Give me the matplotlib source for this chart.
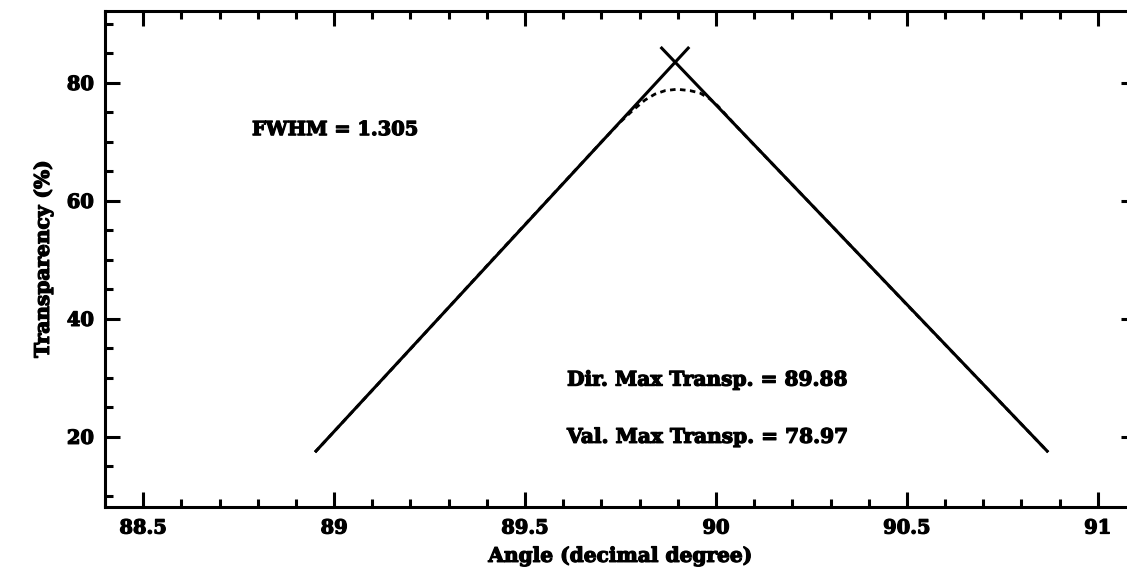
import matplotlib
matplotlib.use("Agg")
import matplotlib.pyplot as plt
import matplotlib.patheffects as pe
from matplotlib.ticker import MultipleLocator, FuncFormatter

# Linear fits (solid lines)
fit_left_x = [88.95, 89.93]
fit_left_y = [17.4, 86.1]
fit_right_x = [89.855, 90.87]
fit_right_y = [86.1, 17.4]

# Measured curve (dashed)
data_x = [88.95, 89.2, 89.4, 89.6, 89.7, 89.75, 89.783, 89.814, 89.84, 89.867,
          89.898, 89.932, 89.958, 89.984, 90.005, 90.05, 90.1, 90.3, 90.5, 90.7, 90.87]
data_y = [17.4, 34.9, 49.0, 63.0, 70.0, 73.4, 75.4, 77.1, 78.1, 78.7,
          78.93, 78.7, 78.3, 77.3, 76.1, 72.9, 69.5, 56.0, 42.4, 28.9, 17.4]

annotations = ["FWHM = 1.305", "Dir. Max Transp. = 89.88", "Val. Max Transp. = 78.97"]

FONT = "DejaVu Serif"
plt.rcParams['font.family'] = [FONT]
plt.rcParams['font.weight'] = 'bold'

heavy = [pe.withStroke(linewidth=0.9, foreground='black')]

fig = plt.figure(figsize=(11.27, 5.73), dpi=100)
ax = fig.add_axes([105/1127, 1-507/573, (1136-105)/1127, (507-11)/573])

ax.plot(data_x, data_y, color='black', lw=2.0, linestyle=(0, (2.0, 1.6)))
ax.plot(fit_left_x, fit_left_y, color='black', lw=2.2, solid_capstyle='butt')
ax.plot(fit_right_x, fit_right_y, color='black', lw=2.2, solid_capstyle='butt')

ax.set_xlim(88.4, 91.1)
ax.set_ylim(8.1, 92.2)

ax.xaxis.set_major_locator(MultipleLocator(0.5))
ax.xaxis.set_minor_locator(MultipleLocator(0.1))
ax.yaxis.set_major_locator(MultipleLocator(20))
ax.yaxis.set_minor_locator(MultipleLocator(5))
ax.xaxis.set_major_formatter(FuncFormatter(lambda v, p: f"{v:g}"))

ax.tick_params(which='both', direction='in', top=True, right=True, width=2.2,
               labelsize=14)
ax.tick_params(axis='x', pad=9)
ax.tick_params(axis='y', pad=8)
ax.tick_params(which='major', length=11)
ax.tick_params(which='minor', length=6)
for lab in ax.get_xticklabels() + ax.get_yticklabels():
    lab.set_fontweight('bold')
    lab.set_path_effects(heavy)
for s in ax.spines.values():
    s.set_linewidth(2.2)

ax.set_xlabel("Angle (decimal degree)", fontsize=14.5, fontweight='bold', labelpad=6,
              path_effects=heavy)
ax.set_ylabel("Transparency (%)", fontsize=14.5, fontweight='bold', labelpad=10,
              path_effects=heavy)

ax.text(88.785, 72.0, annotations[0], fontsize=14, fontweight='bold', va='center', ha='left',
        path_effects=heavy)
ax.text(89.61, 29.7, annotations[1], fontsize=14.5, fontweight='bold', va='center', ha='left',
        path_effects=heavy)
ax.text(89.61, 20.0, annotations[2], fontsize=14.5, fontweight='bold', va='center', ha='left',
        path_effects=heavy)

fig.savefig("out.png", dpi=100)
